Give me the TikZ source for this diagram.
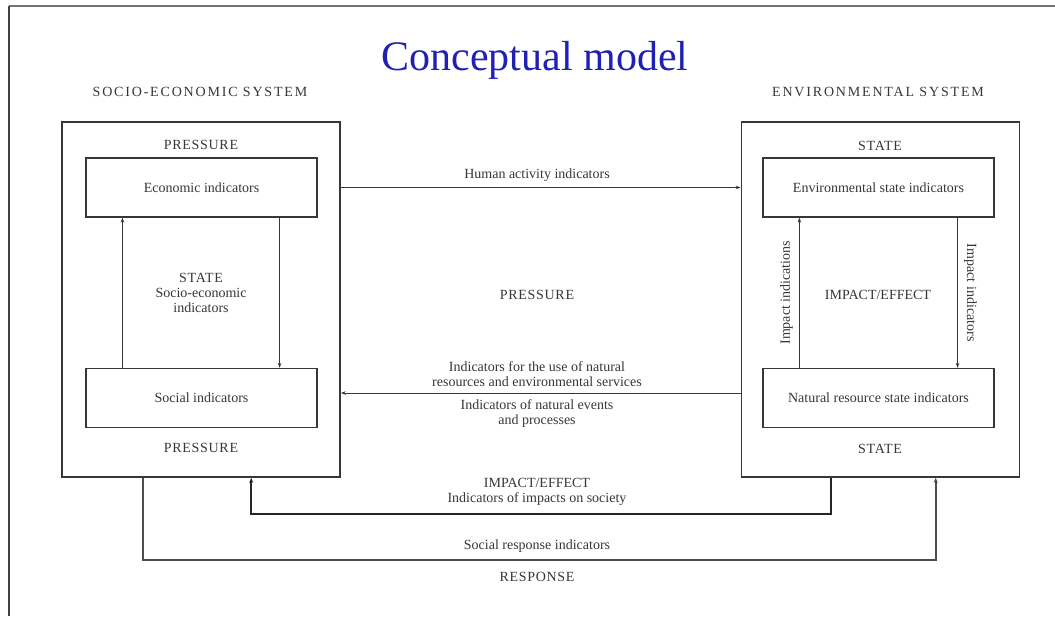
\documentclass[tikz,border=0pt]{standalone}
\usepackage{fontspec}
\setmainfont{Liberation Serif}
\usetikzlibrary{arrows.meta}
\definecolor{titleblue}{RGB}{32,32,180}
\definecolor{inkgray}{RGB}{55,55,55}
\newcommand{\lblfont}{\fontsize{14}{15}\selectfont}

\begin{document}
\begin{tikzpicture}[x=1pt,y=-1pt,
    sysbox/.style={draw=inkgray, line width=1.6pt, minimum width=278pt, minimum height=355pt, inner sep=0pt},
    indbox/.style={draw=inkgray, line width=1.2pt, minimum width=231pt, minimum height=59pt, font=\lblfont, text=inkgray},
    lbl/.style={font=\lblfont, text=inkgray, align=center, inner sep=0pt},
    capslbl/.style={lbl, font=\lblfont\addfontfeature{LetterSpace=5}},
    syslbl/.style={lbl, font=\lblfont\addfontfeature{LetterSpace=13}},
    flow/.style={draw=inkgray, line width=0.9pt, -{Stealth[length=5pt,width=3.5pt]}},
    loopline/.style={draw=black!85, line width=2pt, -{Stealth[length=5pt,width=4pt]}}
  ]
    \useasboundingbox (0,0) rectangle (1055,616);
    \fill[white] (0,0) rectangle (1055,616);
    \draw[black!55, line width=2pt] (9,6) -- (1055,6);
    \draw[black!75, line width=1.2pt] (9,6) -- (9,616);

    \node[text=titleblue, font=\fontsize{42}{46}\selectfont, anchor=base] (title) at (535,70) {Conceptual model};
    \node[syslbl] (socname) at (200,92) {SOCIO-ECONOMIC SYSTEM};
    \node[syslbl] (envname) at (878,92) {ENVIRONMENTAL SYSTEM};

    % the two systems
    \node[sysbox] (socio) at (201,299.5) {};
    \node[sysbox] (env) at (880.5,299.5) {};

    \node[indbox] (econ) at (201.5,187.5) {Economic indicators};
    \node[indbox] (social) at (201.5,398) {Social indicators};
    \node[indbox] (envstate) at (878.5,187.5) {Environmental state indicators};
    \node[indbox] (natres) at (878.5,398) {Natural resource state indicators};

    \node[capslbl] (socpress1) at (201,145) {PRESSURE};
    \node[capslbl] (socpress2) at (201,448) {PRESSURE};
    \node[lbl] (socstate) at (201,293) {\addfontfeature{LetterSpace=5}STATE\\Socio-economic\\indicators};
    \node[capslbl] (envstate1) at (880,146) {STATE};
    \node[capslbl] (envstate2) at (880,449) {STATE};
    \node[lbl] (envimpact) at (878,295) {IMPACT/EFFECT};

    \draw[flow] ([xshift=37pt]social.north west) -- ([xshift=37pt]econ.south west);
    \draw[flow] ([xshift=-38pt]econ.south east) -- ([xshift=-38pt]social.north east);
    \draw[flow] ([xshift=37pt]natres.north west) -- ([xshift=37pt]envstate.south west)
        node[lbl, midway, rotate=90, above=6pt] (impind1) {Impact indications};
    \draw[flow] ([xshift=-37pt]envstate.south east) -- ([xshift=-37pt]natres.north east)
        node[lbl, midway, rotate=-90, above=6pt] (impind2) {Impact indicators};

    % between the systems
    \coordinate (back) at (0,393);
    \draw[flow] (socio.east |- econ.center) -- (env.west |- envstate.center);
    \draw[flow] (env.west |- back) -- (socio.east |- back);
    \node[lbl] (human) at (537,175) {Human activity indicators};
    \node[capslbl] (middle) at (537,295) {PRESSURE};
    \node[lbl] (natuse) at (537,374) {Indicators for the use of natural\\resources and environmental services};
    \node[lbl] (natevents) at (537,414) {Indicators of natural events\\and processes};

    % feedback lines below
    \draw[loopline] ([xshift=90pt]env.south west) -- ++(0,36) -| ([xshift=190pt]socio.south west);
    \draw[loopline, draw=black!70] ([xshift=82pt]socio.south west) -- ++(0,82) -| ([xshift=195pt]env.south west);
    \node[lbl] (impsoc) at (537,492) {IMPACT/EFFECT\\Indicators of impacts on society};
    \node[lbl] (socresp) at (537,546) {Social response indicators};
    \node[capslbl] (response) at (537,577) {RESPONSE};
\end{tikzpicture}
\end{document}
